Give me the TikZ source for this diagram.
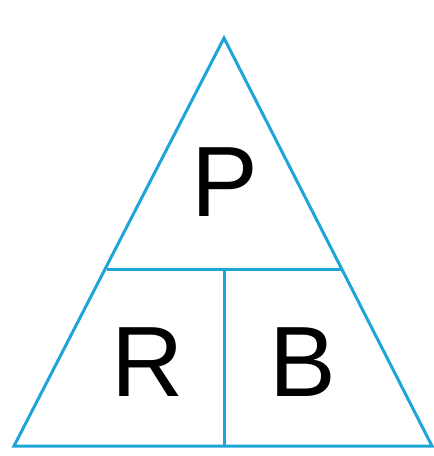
\documentclass[tikz,border=0pt]{standalone}
\usepackage{fontspec}
\setmainfont{Liberation Sans}
\definecolor{tri}{RGB}{30,165,215}
\begin{document}
\begin{tikzpicture}[x=1pt,y=-1pt,
  edge/.style={draw=tri,line width=3pt,line join=miter},
  lbl/.style={font=\fontsize{100}{100}\selectfont,text=black,inner sep=0pt,anchor=base}]
\useasboundingbox (0,0) rectangle (434,456);
\coordinate (A) at (224,38);
\coordinate (L) at (14,446);
\coordinate (Rt) at (432,446);
\coordinate (ML) at (107,269);
\coordinate (MR) at (342,269);
\coordinate (MM) at (224,269);
\coordinate (BM) at (224,446);
\draw[edge] (A) -- (L) -- (Rt) -- cycle;
\draw[edge] (ML) -- (MR);
\draw[edge] (MM) -- (BM);
\node[lbl] (p) at (225,216) {P};
\node[lbl] (r) at (148,396) {R};
\node[lbl] (b) at (303,396) {B};
\end{tikzpicture}
\end{document}
